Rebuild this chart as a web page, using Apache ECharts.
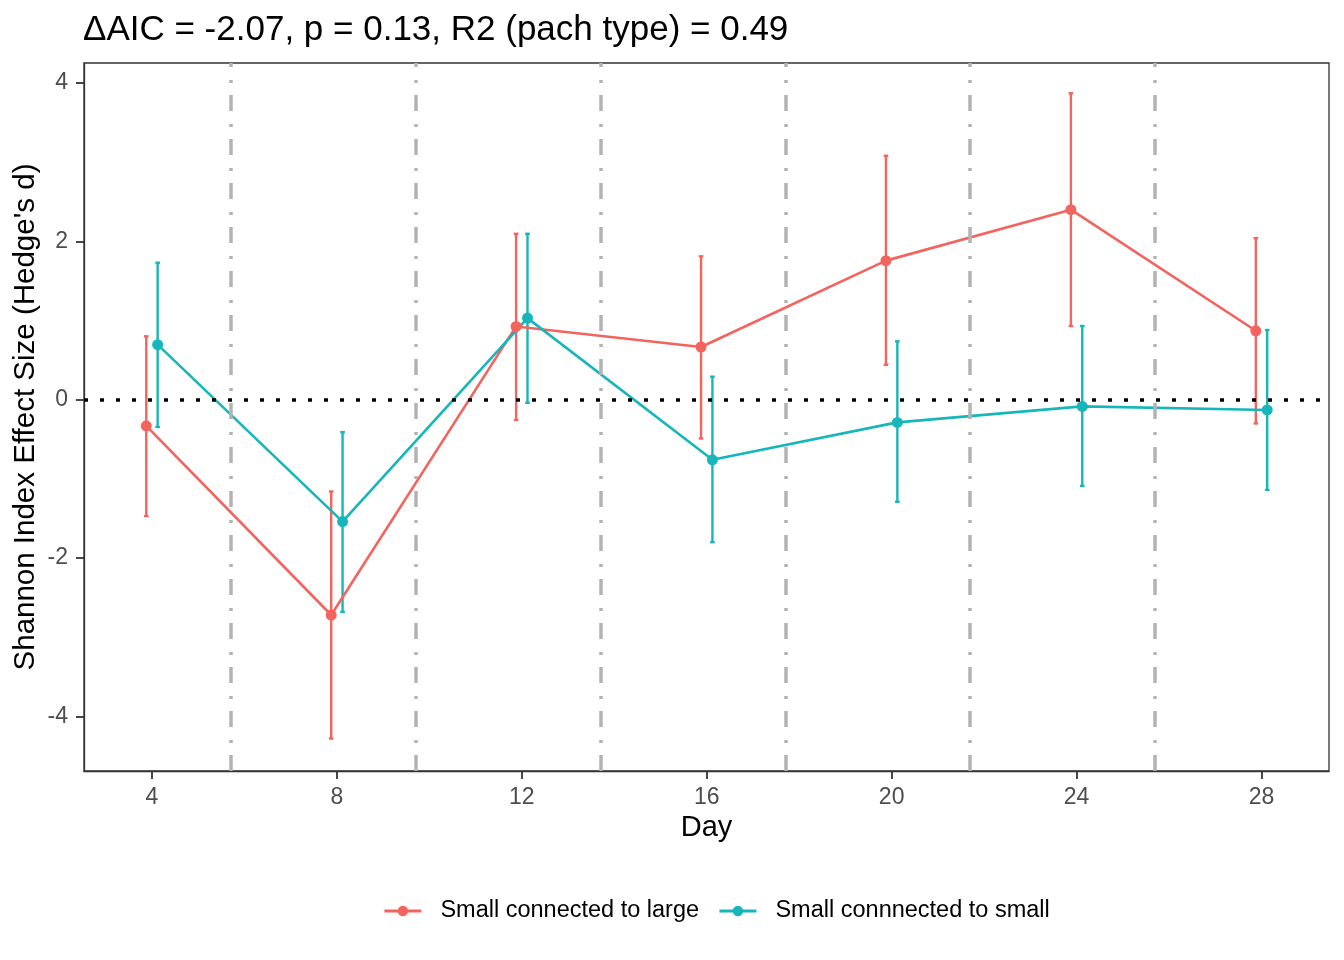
<!DOCTYPE html>
<html>
<head>
<meta charset="utf-8">
<script src="https://cdn.jsdelivr.net/npm/echarts@6/dist/echarts.min.js"></script>
<style>
html,body{margin:0;padding:0;background:#fff;}
#chart{width:1344px;height:960px;}
</style>
</head>
<body>
<div id="chart"></div>
<script>
// ---- data ----
const days = [4, 8, 12, 16, 20, 24, 28];
const xTicks = [4, 8, 12, 16, 20, 24, 28];
const yTicks = [-4, -2, 0, 2, 4];
const vLines = [5.7, 9.7, 13.7, 17.7, 21.7, 25.7];

const largeName = 'Small connected to large';
const largeMean = [-0.33, -2.72, 0.925, 0.665, 1.756, 2.40, 0.87];
const largeLow  = [-1.47, -4.28, -0.257, -0.49, 0.44, 0.93, -0.30];
const largeHigh = [0.80, -1.16, 2.095, 1.81, 3.08, 3.87, 2.04];

const smallName = 'Small connnected to small';
const smallMean = [0.695, -1.54, 1.03, -0.76, -0.287, -0.085, -0.13];
const smallLow  = [-0.345, -2.68, -0.04, -1.80, -1.29, -1.09, -1.14];
const smallHigh = [1.73, -0.41, 2.095, 0.29, 0.737, 0.93, 0.88];

const titleText = '\u0394AIC = -2.07, p = 0.13, R2 (pach type) = 0.49';

// ---- styling ----
const RED = '#F4645F';
const TEAL = '#17B6BA';
const FONT = "'Liberation Sans', Arial, Helvetica, sans-serif";
const DODGE = 0.123;

function pts(mean, off) { return days.map((d, i) => [d + off, mean[i]]); }
function bars(lo, hi, off) { return days.map((d, i) => [d + off, lo[i], hi[i]]); }

function errorBar(color) {
  return function (params, api) {
    const x = api.value(0), lo = api.value(1), hi = api.value(2);
    const pTop = api.coord([x, hi]);
    const pBot = api.coord([x, lo]);
    const half = api.size([0.1, 0])[0] / 2;
    const st = { stroke: color, lineWidth: 2.4 };
    return {
      type: 'group',
      children: [
        { type: 'line', shape: { x1: pTop[0], y1: pTop[1], x2: pBot[0], y2: pBot[1] }, style: st },
        { type: 'line', shape: { x1: pTop[0] - half, y1: pTop[1], x2: pTop[0] + half, y2: pTop[1] }, style: st },
        { type: 'line', shape: { x1: pBot[0] - half, y1: pBot[1], x2: pBot[0] + half, y2: pBot[1] }, style: st }
      ]
    };
  };
}

const chart = echarts.init(document.getElementById('chart'));
chart.setOption({
  backgroundColor: '#fff',
  animation: false,
  textStyle: { fontFamily: FONT },
  title: {
    text: titleText,
    left: 78,
    top: 8,
    textStyle: { fontFamily: FONT, fontSize: 35, fontWeight: 'normal', color: '#000' }
  },
  legend: {
    data: [largeName, smallName],
    left: 378,
    top: 894,
    itemWidth: 37,
    itemHeight: 13,
    itemGap: 19,
    lineStyle: { width: 2.8 },
    textStyle: { fontFamily: FONT, fontSize: 23.5, color: '#000', padding: [0, 0, 0, 14] }
  },
  grid: {
    left: 84, right: 15, top: 63, bottom: 189,
    show: true, borderColor: '#333333', borderWidth: 1.3,
    containLabel: false
  },
  xAxis: {
    type: 'value',
    min: 2.53, max: 29.46,
    name: 'Day',
    nameLocation: 'middle',
    nameGap: 42,
    nameMoveOverlap: false,
    nameTextStyle: { fontFamily: FONT, fontSize: 29, color: '#000' },
    axisLine: { show: true, onZero: false, lineStyle: { color: '#333333', width: 1.3 } },
    axisTick: { show: true, customValues: xTicks, length: 8, lineStyle: { color: '#333333', width: 1.8 } },
    axisLabel: { customValues: xTicks, color: '#4D4D4D', fontSize: 23, margin: 15, fontFamily: FONT },
    splitLine: { show: false }
  },
  yAxis: {
    type: 'value',
    min: -4.69, max: 4.252,
    name: "Shannon Index Effect Size (Hedge's d)",
    nameLocation: 'middle',
    nameGap: 43,
    nameMoveOverlap: false,
    nameTextStyle: { fontFamily: FONT, fontSize: 29.5, color: '#000' },
    axisLine: { show: true, onZero: false, lineStyle: { color: '#333333', width: 1.3 } },
    axisTick: { show: true, customValues: yTicks, length: 8, lineStyle: { color: '#333333', width: 1.8 } },
    axisLabel: { customValues: yTicks, color: '#4D4D4D', fontSize: 23, margin: 16, fontFamily: FONT },
    splitLine: { show: false }
  },
  series: [
    {
      type: 'custom', name: largeName + ' err', renderItem: errorBar(RED),
      data: bars(largeLow, largeHigh, -DODGE), encode: { x: 0, y: [1, 2] }, z: 2, silent: true
    },
    {
      type: 'custom', name: smallName + ' err', renderItem: errorBar(TEAL),
      data: bars(smallLow, smallHigh, DODGE), encode: { x: 0, y: [1, 2] }, z: 2, silent: true
    },
    {
      type: 'line', name: largeName, data: pts(largeMean, -DODGE),
      symbol: 'circle', symbolSize: 11, showSymbol: true,
      lineStyle: { color: RED, width: 2.6 }, itemStyle: { color: RED }, z: 3
    },
    {
      type: 'line', name: smallName, data: pts(smallMean, DODGE),
      symbol: 'circle', symbolSize: 11, showSymbol: true,
      lineStyle: { color: TEAL, width: 2.6 }, itemStyle: { color: TEAL }, z: 3
    },
    {
      type: 'line', name: 'vlines', data: [], z: 5, silent: true,
      markLine: {
        silent: true, symbol: ['none', 'none'], label: { show: false },
        lineStyle: { color: '#B3B3B3', width: 3.5, type: [16, 12, 3, 13], cap: 'butt' },
        data: vLines.map(v => ({ xAxis: v }))
      }
    },
    {
      type: 'line', name: 'hline', data: [], z: 6, silent: true,
      markLine: {
        silent: true, symbol: ['none', 'none'], label: { show: false },
        lineStyle: { color: '#000000', width: 3.5, type: [4, 12], cap: 'butt' },
        data: [{ yAxis: 0 }]
      }
    }
  ]
});
</script>
</body>
</html>
